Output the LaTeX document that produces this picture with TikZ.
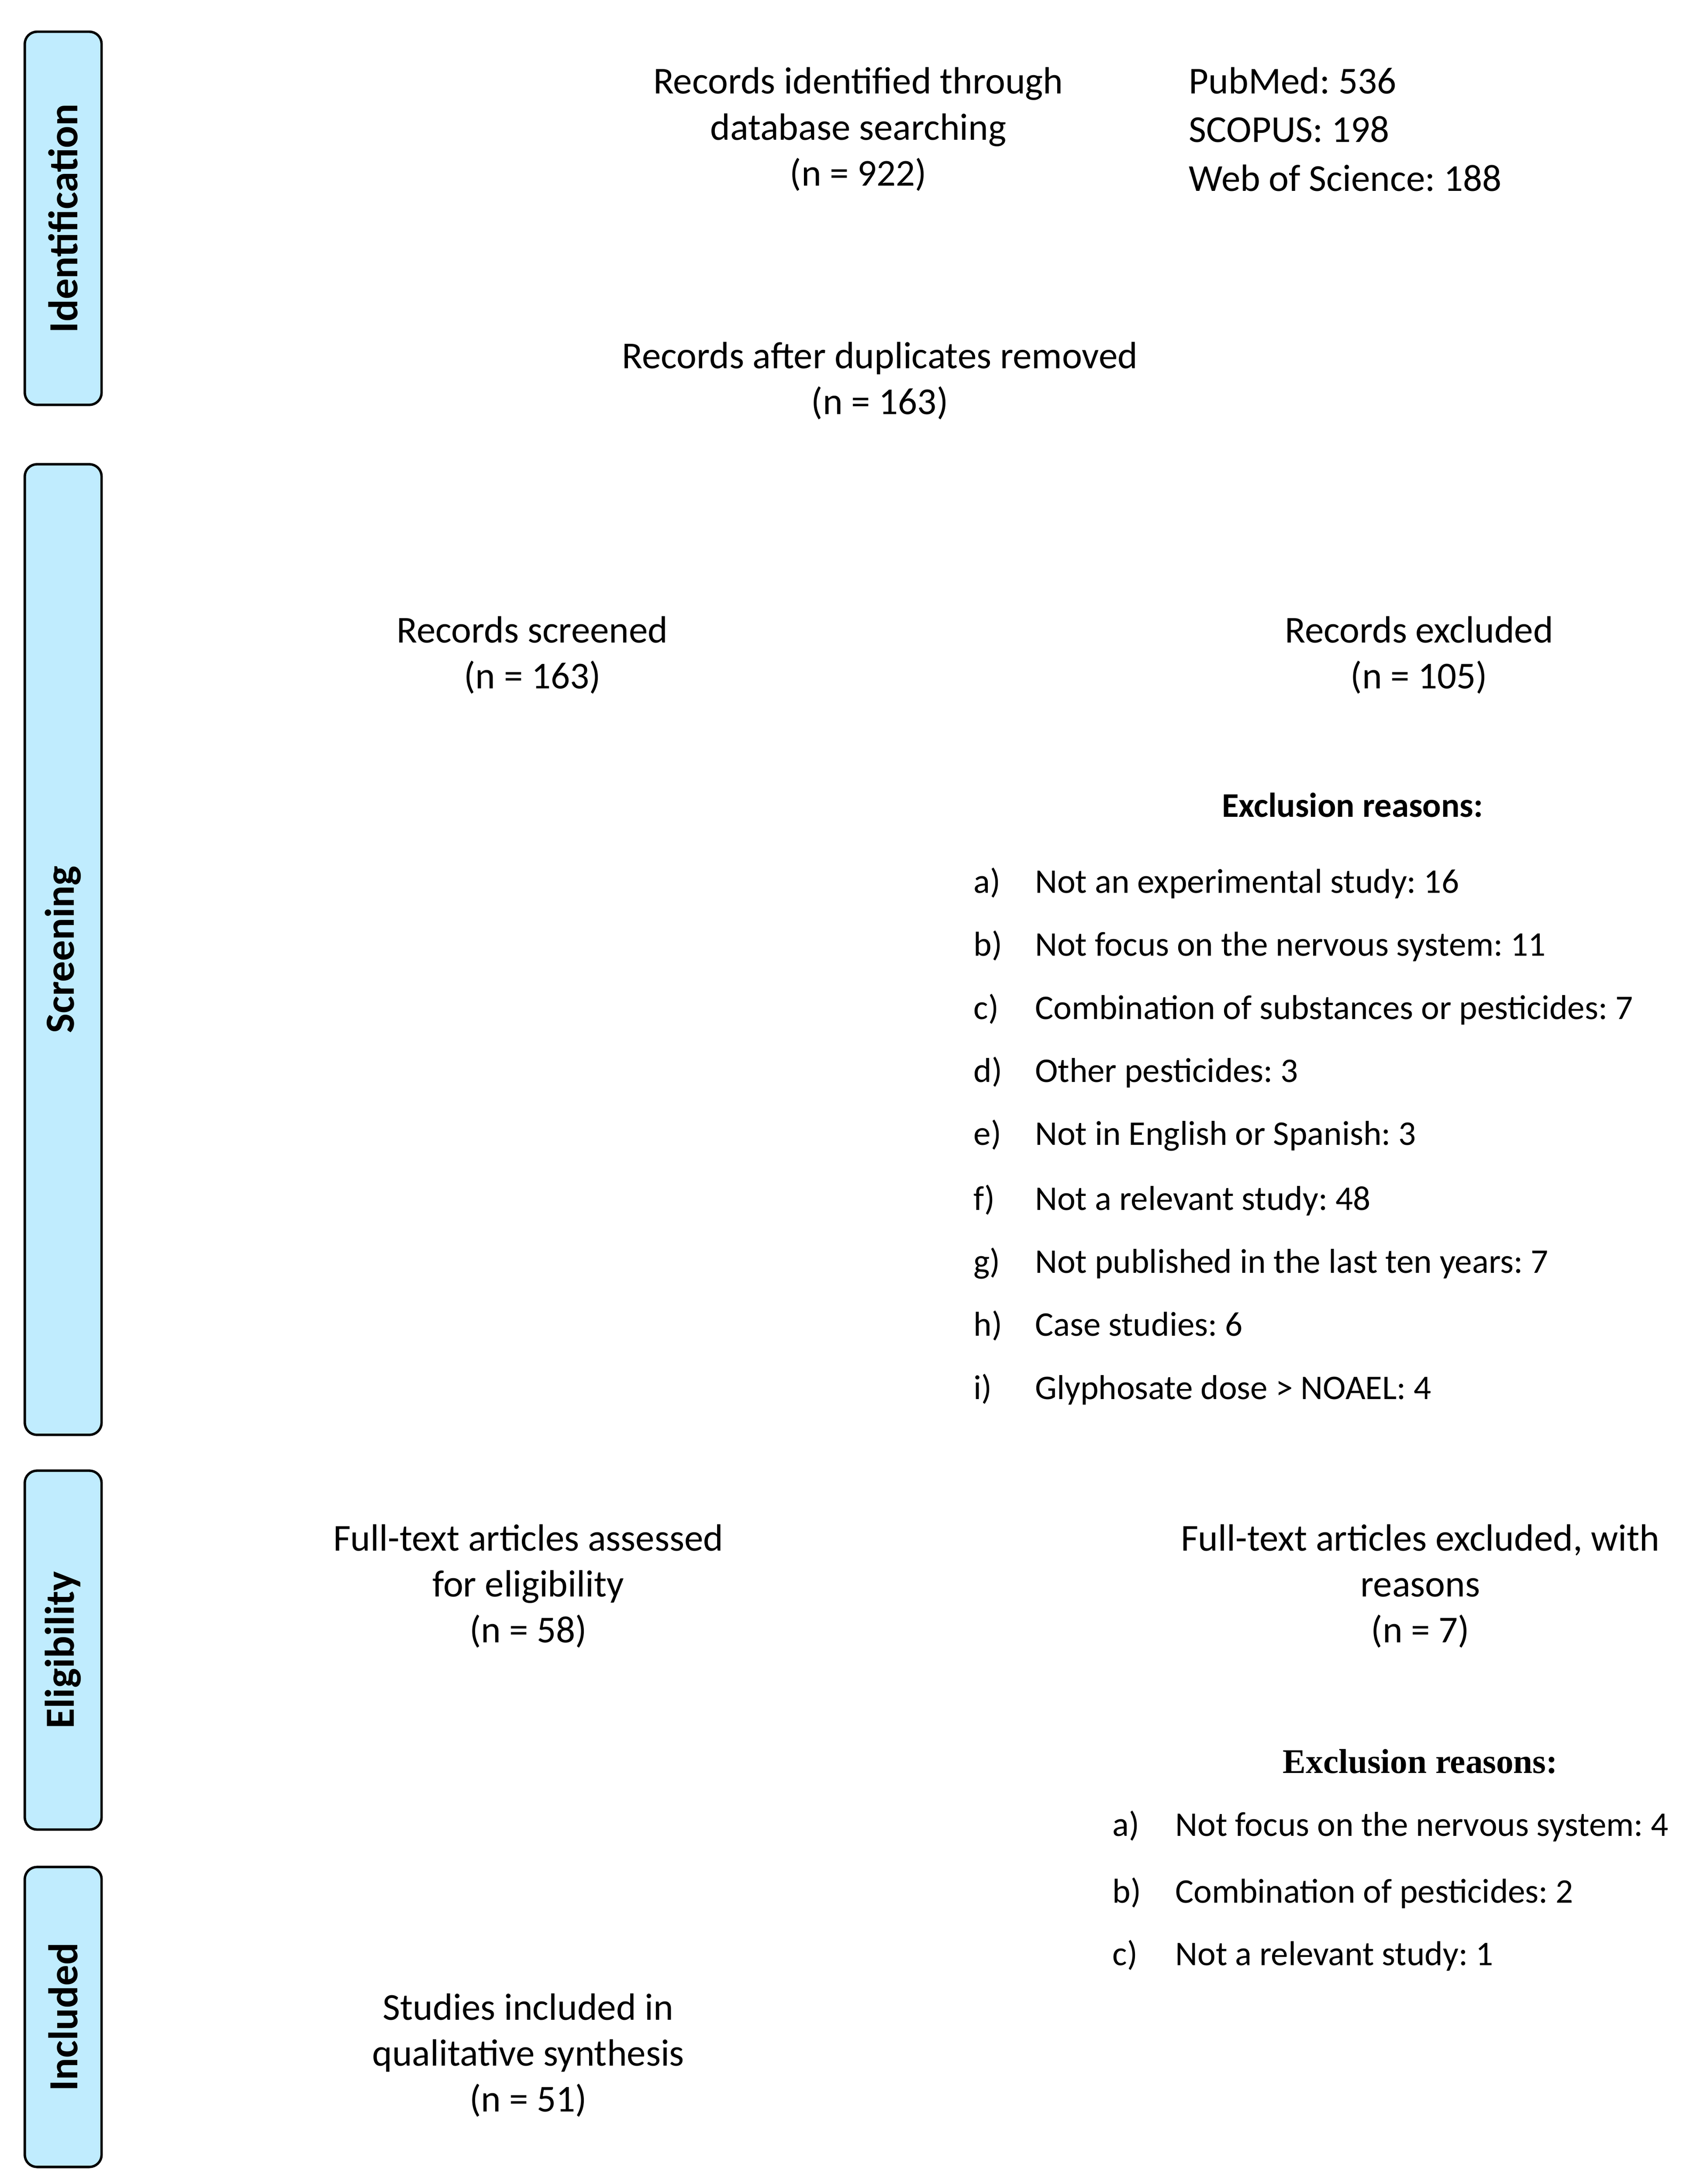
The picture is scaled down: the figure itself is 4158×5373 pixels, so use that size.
\documentclass[tikz,border=0pt]{standalone}
\usepackage{fontspec}
\setmainfont{Carlito}
\newfontfamily\tnr{Liberation Serif}
\definecolor{sidefill}{RGB}{192,236,254}
\tikzset{
  side/.style={draw, line width=0.6pt, fill=sidefill, rounded corners=3pt, rotate=90,
    minimum height=18.9pt, inner sep=0pt, font=\fontsize{10.2}{12}\selectfont\bfseries},
  main/.style={align=center, font=\fontsize{9.35}{11.3}\selectfont, inner sep=0pt},
  dbs/.style={align=left, anchor=west, font=\fontsize{9.35}{12}\selectfont, inner sep=0pt},
  lbl/.style={anchor=base west, font=\fontsize{8.5}{10}\selectfont, inner sep=0pt},
  head/.style={anchor=base, font=\fontsize{8.5}{10}\selectfont\bfseries, inner sep=0pt},
}
\begin{document}
\frenchspacing
\begin{tikzpicture}[x=0.1pt,y=-0.1pt]
\path[use as bounding box] (0,0) rectangle (4158,5373);
% phase boxes
\node[side, minimum width=91.8pt]  (ident) at (155.5,537)  {Identification};
\node[side, minimum width=238.8pt] (scr)   at (155.5,2336) {Screening};
\node[side, minimum width=88.3pt]  (elig)  at (155.5,4059.5) {Eligibility};
\node[side, minimum width=73.8pt]  (incl)  at (155.5,4962) {Included};
% identification
\node[main] (recid) at (2112,318) {Records identified through\\database searching\\(n = 922)};
\node[dbs] (dbs) at (2924,318) {PubMed: 536\\SCOPUS: 198\\Web of Science: 188};
\node[main] (dup) at (2165,937) {Records after duplicates removed\\(n = 163)};
% screening
\node[main] (screened) at (1310,1612) {Records screened\\(n = 163)};
\node[main] (excl) at (3492,1612) {Records excluded\\(n = 105)};
\node[head] (exh1) at (3328,2010) {Exclusion reasons:};
\foreach \k/\t/\y in {a/Not an experimental study: 16/2197,
                      b/Not focus on the nervous system: 11/2352,
                      c/Combination of substances or pesticides: 7/2507,
                      d/Other pesticides: 3/2662,
                      e/Not in English or Spanish: 3/2817,
                      f/Not a relevant study: 48/2977,
                      g/Not published in the last ten years: 7/3132,
                      h/Case studies: 6/3287,
                      i/Glyphosate dose > NOAEL: 4/3442}{
  \node[lbl] (l1\k) at (2394,\y) {\k)};
  \node[lbl] (r1\k) at (2545,\y) {\t};
}
% eligibility
\node[main] (ft) at (1300,3902) {Full-text articles assessed\\for eligibility\\(n = 58)};
\node[main] (ftex) at (3495,3902) {Full-text articles excluded, with\\reasons\\(n = 7)};
\node[head, font=\fontsize{8.5}{10}\selectfont\tnr\bfseries] (exh2) at (3495,4362) {Exclusion reasons:};
\foreach \k/\t/\y in {a/Not focus on the nervous system: 4/4517,
                      b/Combination of pesticides: 2/4681,
                      c/Not a relevant study: 1/4835}{
  \node[lbl] (l2\k) at (2736,\y) {\k)};
  \node[lbl] (r2\k) at (2890,\y) {\t};
}
% included
\node[main] (stud) at (1300,5056) {Studies included in\\qualitative synthesis\\(n = 51)};
\end{tikzpicture}
\end{document}
